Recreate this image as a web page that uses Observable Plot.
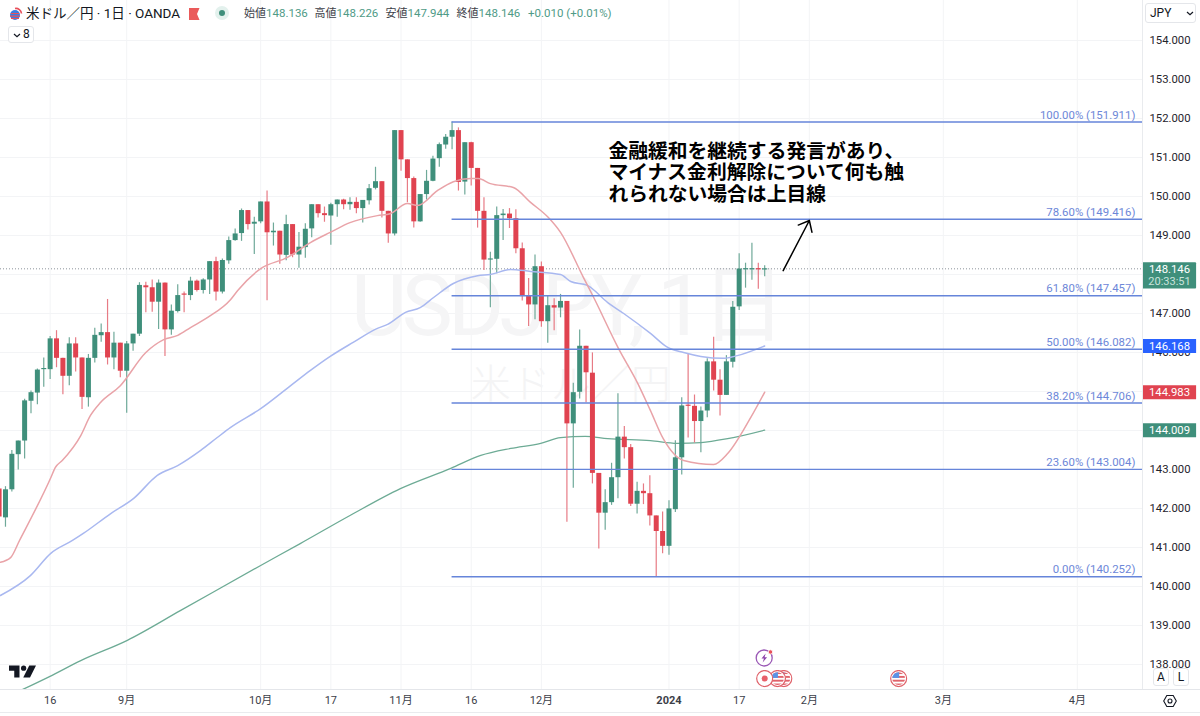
<!DOCTYPE html>
<html><head><meta charset="utf-8">
<script src="https://cdn.jsdelivr.net/npm/d3@7"></script>
<script src="https://cdn.jsdelivr.net/npm/@observablehq/plot@0.6"></script>
<style>
html,body{margin:0;padding:0;background:#fff;width:1200px;height:716px;overflow:hidden}
#wrap{position:relative;width:1200px;height:716px;font-family:Roboto,"Noto Sans CJK JP",sans-serif;color:#131722}
#wrap>svg{display:block}
#wrap g[font-size="86"] text{letter-spacing:-5px}
.o{position:absolute;white-space:nowrap}
.box{position:absolute;background:#fff;border:1px solid #e4e6ea;border-radius:3px;box-sizing:border-box;text-align:center;font-size:11px;white-space:nowrap}
.box svg{display:inline-block;vertical-align:middle}
</style></head><body><div id="wrap"></div>
<script>
const open=[142.50,141.76,142.48,143.38,143.73,144.75,144.96,145.56,145.56,146.35,
145.85,145.39,146.22,145.86,144.84,145.85,146.43,146.51,145.86,146.24,
145.52,146.22,146.47,147.71,147.66,147.29,147.78,146.58,147.05,147.50,
147.46,147.83,147.59,147.86,148.33,147.55,148.35,148.87,149.05,149.64,
149.29,149.35,149.86,149.07,149.11,148.49,149.28,148.50,148.69,149.17,
149.79,149.56,149.50,149.79,149.91,149.79,149.85,149.69,149.89,150.21,
150.38,149.62,149.04,151.69,150.94,150.46,149.35,150.05,150.39,150.97,
151.32,151.52,151.69,150.37,151.38,150.72,149.62,148.38,148.39,149.51,
149.55,149.43,148.66,147.46,147.22,148.20,146.79,147.20,147.14,147.31,
144.17,144.98,146.16,145.47,142.90,141.88,142.15,142.79,143.83,143.56,
142.11,142.44,142.38,141.81,141.41,141.03,141.97,143.30,144.65,144.62,
144.23,144.50,145.76,145.29,144.90,145.75,147.17,148.14,148.14,148.15,148.136];
const close=[141.78,142.48,143.39,143.73,144.76,144.97,145.55,145.59,146.35,145.85,
145.39,146.22,145.86,144.85,145.85,146.44,146.51,145.86,146.24,145.52,
146.22,146.47,147.72,147.66,147.29,147.78,146.58,147.06,147.46,147.48,
147.83,147.59,147.86,148.33,147.55,148.36,148.87,149.04,149.64,149.28,
149.34,149.86,149.07,149.11,148.50,149.28,148.50,148.70,149.16,149.79,
149.56,149.51,149.79,149.91,149.79,149.85,149.69,149.90,150.20,150.38,
149.62,149.04,151.69,150.94,150.46,149.35,150.05,150.39,150.96,151.33,
151.52,151.69,150.36,151.38,150.72,149.62,148.37,148.40,149.51,149.55,
149.43,148.66,147.46,147.22,148.20,146.79,147.20,147.14,147.31,144.17,
144.97,146.16,145.48,142.90,141.88,142.15,142.79,143.83,143.56,142.11,
142.44,142.38,141.81,141.41,141.03,141.99,143.30,144.63,144.62,144.23,
144.50,145.76,145.29,144.90,145.76,147.16,148.14,148.15,148.15,148.12,148.146];
const high=[142.50,142.56,143.49,143.73,144.80,145.01,145.58,145.86,146.41,146.56,
145.85,146.38,146.38,145.86,145.95,146.62,146.73,147.36,146.52,146.24,
146.28,146.47,147.79,147.80,147.86,147.86,147.78,147.22,147.74,147.55,
147.93,147.86,147.89,148.33,148.44,148.40,148.96,149.17,149.68,149.64,
149.47,149.86,150.14,149.32,149.11,149.52,149.28,149.08,149.30,149.79,
149.79,149.73,149.83,149.91,149.93,149.97,149.97,149.90,150.31,150.75,
150.38,149.62,151.69,151.69,150.94,150.50,150.05,150.67,151.03,151.37,
151.59,151.911,151.76,151.38,151.39,150.72,149.97,148.57,149.73,149.67,
149.69,149.66,148.81,147.90,148.50,148.32,147.44,147.38,147.49,147.31,
145.21,146.58,146.16,145.99,142.90,142.48,143.16,144.94,144.10,143.64,
142.67,142.63,142.84,141.81,141.91,142.20,143.74,144.84,145.97,144.91,
144.60,145.84,146.39,145.56,145.92,147.31,148.53,148.29,148.80,148.29,148.226];
const low=[141.78,141.52,142.42,142.99,143.27,144.43,144.66,145.11,145.31,145.61,
144.92,145.15,145.50,144.54,144.60,145.73,146.26,145.68,145.56,145.35,
144.44,146.03,146.41,147.02,147.03,146.59,145.90,146.44,147.01,147.02,
147.33,147.55,147.50,147.49,147.32,147.50,148.26,148.85,148.85,149.14,
148.51,149.30,147.33,148.73,148.26,148.35,148.43,148.16,148.42,148.94,
149.45,149.34,148.75,149.47,149.66,149.65,149.56,149.32,149.78,150.17,
149.45,148.80,148.99,150.65,149.84,149.19,149.34,149.91,150.38,150.75,
151.21,151.20,150.14,150.04,150.27,149.19,148.10,147.15,148.02,148.87,
149.18,148.53,147.32,146.67,146.84,146.65,146.24,146.56,146.89,141.65,
142.52,144.81,144.71,142.63,140.96,141.44,142.08,142.25,143.27,142.05,
141.86,142.10,141.55,140.252,140.84,140.80,141.90,142.86,143.81,143.68,
143.43,144.33,145.01,144.37,144.90,145.60,147.08,147.65,147.85,147.62,147.944];

const maRedBar=[0.2,1.8,3.2,8.1,8.8,9.9,12.8,14.3,15.9,19,23,25.8,28,30,32.7,36.3,37.4,41,45.2,48.8,51.9,55,59.3,61.3,64,65.6,68.7,71.2,73.9,75.1,77,80.6,83.3,86.1,88,91.6,93.2,97.1,100.1,102.1,104.1,107.3,112,114.2,117.8,120];
const maRedVal=[140.62,140.74,141.18,142.79,143.05,143.23,143.87,144.38,144.72,145.15,146.0,146.33,146.44,146.64,146.90,147.36,147.59,148.15,148.44,148.82,149.08,149.33,149.51,149.56,149.82,149.77,150.15,150.38,150.46,150.46,150.33,150.23,149.85,149.46,149.08,147.92,147.41,146.10,145.21,144.51,143.79,143.23,143.13,143.41,144.33,144.983];
const maBlueBar=[0.2,4.9,8.1,11.5,13.2,17.5,21.1,24.8,28,31.6,34.2,36.3,41,45.7,48.8,51.9,55.5,59.3,60.9,63.7,66,68.1,71.2,75,77,80.2,83.3,88,89.6,92.2,95.4,97.9,102.1,104.8,107.3,110,113.5,115.7,120];
const maBlueVal=[139.77,140.28,140.85,141.18,141.36,141.87,142.26,142.85,143.10,143.49,143.82,144.08,144.56,145.15,145.54,145.90,146.26,146.62,146.72,147.03,147.15,147.41,147.77,147.97,148.0,148.13,148.08,148.00,147.82,147.72,147.28,147.0,146.49,146.13,146.0,145.90,145.85,145.92,146.168];
const maGreenBar=[3.7,7.9,12.8,20.1,28.4,41,47.2,55,62.9,70.8,75.5,80.2,84.9,88,91.9,95.4,102.1,106.3,110,114.2,120];
const maGreenVal=[137.36,137.69,138.10,138.62,139.38,140.54,141.10,141.82,142.51,143.03,143.36,143.54,143.67,143.82,143.85,143.79,143.74,143.67,143.69,143.79,144.009];

const fibLevels=[151.911,149.416,147.457,146.082,144.706,143.004,140.252];
const fibLabels=["100.00% (151.911)","78.60% (149.416)","61.80% (147.457)","50.00% (146.082)","38.20% (144.706)","23.60% (143.004)","0.00% (140.252)"];
const gridTicks=d3.range(138,155);
const priceTicks=[138,139,140,141,142,143,146,147,149,150,151,152,153,154];
const timeTickBars=[8,20,41,52,63,74,85,116,127,148,169];
const timeTickLabels=["16","9月","10月","17","11月","16","12月","17","2月","3月","4月"];
const yearBar=105, yearLabel="2024";
const note=["金融緩和を継続する発言があり、","マイナス金利解除について何も触","れられない場合は上目線"];
const noteY=[151.14,150.60,150.06];

const green="#3f8f7b",red="#e04350",wickG="#6fa999",wickR="#e77b85";
const bars=open.map((o,i)=>({i,o,c:close[i],h:high[i],l:low[i],up:close[i]>=o,
  top:Math.max(o,close[i]),bot:Math.min(Math.min(o,close[i]),Math.max(o,close[i])-0.03)}));
const line=(xs,ys)=>xs.map((x,k)=>({x,y:ys[k]}));

const svgUri=s=>"data:image/svg+xml;utf8,"+encodeURIComponent(s);
const flagIcon=svgUri(`<svg xmlns="http://www.w3.org/2000/svg" width="18" height="18" viewBox="0 0 18 18"><clipPath id="c"><circle cx="9" cy="9" r="6.4"/></clipPath><circle cx="9" cy="9" r="8" fill="#fff" stroke="#e0636b" stroke-width="1.2"/><g clip-path="url(#c)"><rect width="18" height="18" fill="#fff"/><rect y="2.6" width="18" height="1.9" fill="#e0636b"/><rect y="6.4" width="18" height="1.9" fill="#e0636b"/><rect y="10.2" width="18" height="1.9" fill="#e0636b"/><rect y="14" width="18" height="2" fill="#e0636b"/><rect x="2" y="2" width="7.5" height="6.4" fill="#5b93e6"/></g></svg>`);
const targetIcon=svgUri(`<svg xmlns="http://www.w3.org/2000/svg" width="18" height="18" viewBox="0 0 18 18"><circle cx="9" cy="9" r="8" fill="#fff" stroke="#e0636b" stroke-width="1.2"/><circle cx="9" cy="9" r="3" fill="#e8606a"/></svg>`);
const flashIcon=svgUri(`<svg xmlns="http://www.w3.org/2000/svg" width="20" height="20" viewBox="0 0 20 20"><circle cx="9.5" cy="10.5" r="8" fill="#fff" stroke="#9b59b6" stroke-width="1.3"/><path d="M11 6 L6.8 11 L9.3 11 L8 15 L12.4 9.8 L9.9 9.8 Z" fill="#8e44ad"/><circle cx="15.8" cy="4.5" r="2.2" fill="#e8505b" stroke="#fff" stroke-width=".8"/></svg>`);
const eventIcons=[{x:123,y:137.64,src:flagIcon},{x:122,y:137.64,src:flagIcon},{x:120,y:137.64,src:targetIcon},{x:141,y:137.64,src:flagIcon}];
const flashEvent=[{x:120,y:138.18,src:flashIcon}];

const grid="#f3f4f6";
const chart=Plot.plot({
  width:1200,height:716,marginLeft:0,marginRight:58,marginTop:0,marginBottom:27,
  x:{type:"linear",domain:[0.22,179.22],range:[0,1142],axis:null},
  y:{type:"linear",domain:[137.359,155.026],range:[689,0],axis:null},
  style:{fontFamily:'Roboto,"Noto Sans CJK JP",sans-serif',background:"#fff",overflow:"visible"},
  marks:[
    Plot.gridY(gridTicks,{stroke:grid,strokeOpacity:1}),
    Plot.gridX([...timeTickBars,yearBar],{stroke:grid,strokeOpacity:1}),
    Plot.text(["USDJPY, 1日"],{x:[88.9],y:[147.15],fontSize:86,fill:"#f5f5f6",fontWeight:400}),
    Plot.text(["米ドル／円"],{x:[89.6],y:[145.15],fontSize:40,fill:"#f4f4f5",fontWeight:300}),
    Plot.ruleY([148.146],{stroke:"#8d939b",strokeDasharray:"1,2"}),
    Plot.line(line(maGreenBar,maGreenVal),{x:"x",y:"y",curve:"monotone-x",stroke:"#6dab95",strokeWidth:1.3,clip:"frame"}),
    Plot.ruleX(bars,{x:"i",y1:"l",y2:"h",stroke:d=>d.up?wickG:wickR,strokeWidth:1.2,clip:"frame"}),
    Plot.ruleX(bars,{x:"i",y1:"bot",y2:"top",stroke:d=>d.up?green:red,strokeWidth:5,clip:"frame"}),
    Plot.line(line(maBlueBar,maBlueVal),{x:"x",y:"y",curve:"monotone-x",stroke:"#a9b8f0",strokeWidth:1.5,clip:"frame"}),
    Plot.line(line(maRedBar,maRedVal),{x:"x",y:"y",curve:"monotone-x",stroke:"#e9a3a8",strokeWidth:1.5,clip:"frame"}),
    Plot.ruleY(fibLevels,{x1:71,x2:179.22,stroke:"#6685da",strokeWidth:1.4}),
    Plot.text(fibLevels,{x:178.1,y:d=>d,text:(d,k)=>fibLabels[k],textAnchor:"end",dy:-7,fontSize:11.4,fill:"#6d87d8"}),
    Plot.text(note,{x:95.5,y:(d,k)=>noteY[k],textAnchor:"start",fontSize:19.8,fontWeight:700,fill:"#000",fontFamily:'"Noto Sans CJK JP"'}),
    Plot.arrow([0],{x1:[122.9],y1:[148.10],x2:[127.0],y2:[149.385],bend:0,stroke:"#000",strokeWidth:1.5,headLength:12,headAngle:80}),
    Plot.axisX({ticks:timeTickBars,tickFormat:d=>timeTickLabels[timeTickBars.indexOf(d)],tickSize:0,tickPadding:7,fontSize:11,fill:"#3c4048",label:null}),
    Plot.axisX({ticks:[yearBar],tickFormat:()=>yearLabel,tickSize:0,tickPadding:7,fontSize:11,fontWeight:700,fill:"#3c4048",label:null}),
    Plot.axisY({anchor:"right",ticks:priceTicks,tickFormat:d3.format(".3f"),tickSize:0,tickPadding:7,fontSize:11.3,fill:"#1f232c",label:null}),
    Plot.image(eventIcons,{x:"x",y:"y",src:"src",width:18,height:18}),
    Plot.image(flashEvent,{x:"x",y:"y",src:"src",width:20,height:20}),
    Plot.rect([0],{x1:[179.22],x2:[187.7],y1:[148.30],y2:[147.63],fill:green,rx:1}),
    Plot.text(["148.146"],{x:[183.45],y:[148.146],dy:1,fill:"#fff",fontSize:11.3}),
    Plot.text(["20:33:51"],{x:[183.45],y:[147.83],fill:"#c9e3db",fontSize:11}),
    Plot.ruleY([146.168],{x1:179.22,x2:187.7,stroke:"#2962ff",strokeWidth:14}),
    Plot.ruleY([144.983],{x1:179.22,x2:187.7,stroke:"#e04350",strokeWidth:14}),
    Plot.ruleY([144.009],{x1:179.22,x2:187.7,stroke:green,strokeWidth:14}),
    Plot.text([146.168,144.983,144.009],{x:183.45,y:d=>d,text:d=>d3.format(".3f")(d),fill:"#fff",fontSize:11.3})
  ]
});
const wrap=document.getElementById("wrap");
wrap.appendChild(chart);
const add=(css,html,cls="o")=>{const e=document.createElement("div");e.className=cls;e.style.cssText=css;e.innerHTML=html;wrap.appendChild(e);};
// axis hairlines
add("left:1142px;top:0;width:1px;height:689px;background:#e9ebee","");
add("left:0;top:689px;width:1200px;height:1px;background:#e4e6ea","");
add("left:0;top:712px;width:1200px;height:1px;background:#e9ebee","");
// header
const hdrFlag=`<svg width="14" height="14" viewBox="0 0 14 14"><circle cx="6" cy="8" r="5" fill="#3b7de0"/><path d="M2 6h8v1H2zM1 8.500h10v1.200H1zM2 11h8v1H2z" fill="#e8505b"/><path d="M6 1.500a5.500 5.500 0 0 1 6.500 5" fill="none" stroke="#e8505b" stroke-width="1.600"/></svg>`;
const chev=`<svg width="8" height="5" viewBox="0 0 8 5" fill="none" stroke="#131722" stroke-width="1.200"><path d="M1 1l3 2.800L7 1"/></svg>`;
add("left:9px;top:7px;line-height:0",hdrFlag);
add("left:26px;top:5px;font-size:13.5px;line-height:17px;color:#131722","米ドル／円 · 1日 · OANDA");
add("left:189px;top:8px;line-height:0",`<svg width="11" height="12" viewBox="0 0 11 12"><path d="M0 0h10.500L8 6l2.500 6H0z" fill="#ea5a5a"/></svg>`);
add("left:215px;top:6px;width:14px;height:14px;border-radius:7px;background:#e3f1ed","");
add("left:219px;top:10px;width:6px;height:6px;border-radius:3px;background:#3f8f7b","");
const g=s=>`<span style="color:#4f9b87">${s}</span>`;
const lab=(x,t,v)=>{add(`left:${x}px;top:6px;font-size:11px;line-height:15px;color:#3c4048`,t);add(`left:${x+22}px;top:6px;font-size:11.500px;line-height:15px`,g(v));};
lab(244,"始値","148.136");lab(314.5,"高値","148.226");lab(385.5,"安値","147.944");lab(456.5,"終値","148.146");
add("left:528px;top:6px;font-size:11.500px;line-height:15px",g("+0.010 (+0.01%)"));
add("left:8px;top:26px;width:26px;height:17px;line-height:15px;text-align:left;padding-left:4px;color:#131722",chev+"<span style='margin-left:2px;font-size:12px'>8</span>","box");
add("left:1145px;top:3px;width:51px;height:20px;line-height:18px;text-align:left;padding-left:4px;font-size:12px;color:#131722","JPY<span style='position:absolute;left:40px;top:0'>"+chev+"</span>","box");
add("left:1153px;top:668px;width:16px;height:18px;line-height:16px;font-size:12px","A","box");
add("left:1173px;top:668px;width:16px;height:18px;line-height:16px;font-size:12px","L","box");
add("left:9px;top:664px;line-height:0",`<svg width="27" height="15" viewBox="0 0 36 20"><path d="M0 2h14v16H7V9H0z" fill="#131722"/><circle cx="19.500" cy="5.500" r="3.500" fill="#131722"/><path d="M27 2h9l-8 16h-9z" fill="#131722"/></svg>`);
add("left:1163px;top:694px;line-height:0",`<svg width="14" height="14" viewBox="0 0 14 14" fill="none" stroke="#131722" stroke-width="1.100"><path d="M3.800 1.500h6.400L13.300 7l-3.100 5.500H3.800L.7 7z"/><circle cx="7" cy="7" r="2"/></svg>`);
</script></body></html>
